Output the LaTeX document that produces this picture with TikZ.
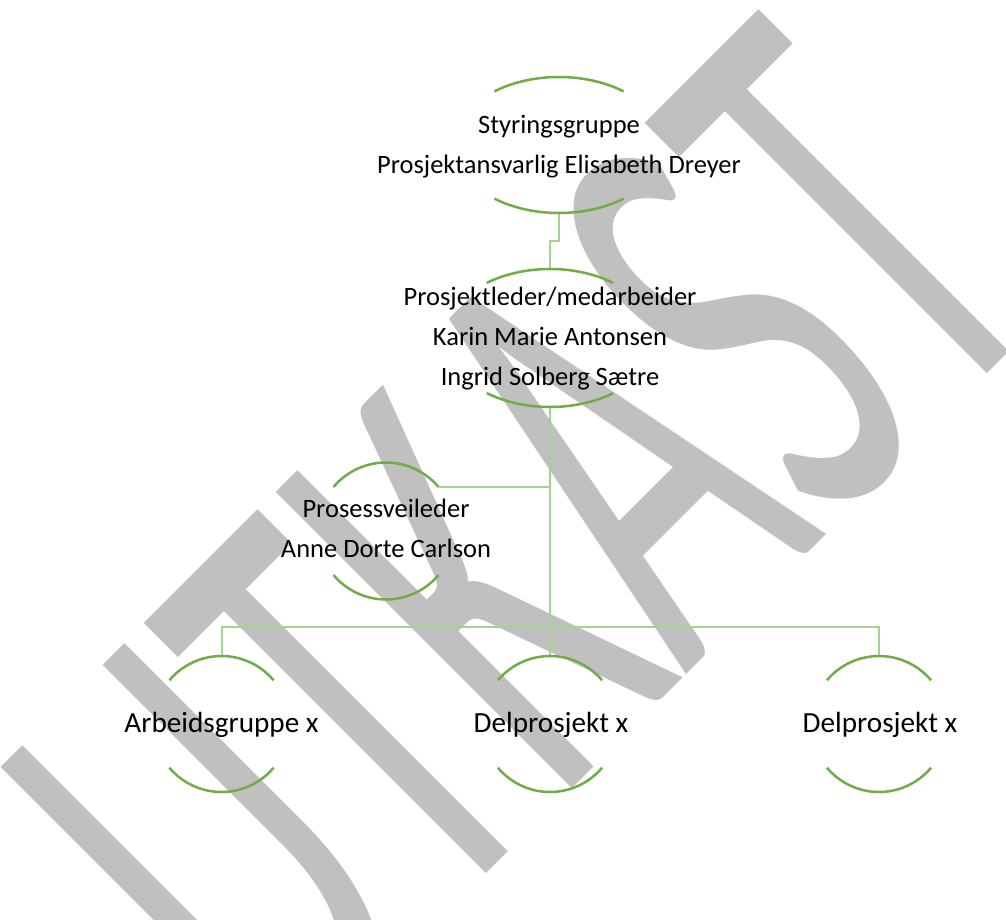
\documentclass[tikz,border=0pt]{standalone}
\usepackage{fontspec}
\setmainfont{Carlito}
\newfontfamily\wmfont{Carlito}
\usetikzlibrary{calc}
\definecolor{arcgreen}{RGB}{112,173,71}
\definecolor{conngreen}{RGB}{169,209,142}
\definecolor{wmgray}{RGB}{192,192,192}
\tikzset{
  arcst/.style={draw=arcgreen, line width=1.25pt},
  conn/.style={draw=conngreen, line width=1pt},
  lbl/.style={align=center, inner sep=0pt, text=black, font=\fontsize{13.25pt}{20pt}\selectfont},
  lblbig/.style={inner sep=0pt, text=black, font=\fontsize{14.6pt}{18pt}\selectfont},
}
\newcommand\drawarcs[4]{%
  \draw[arcst] ($(#1)+(#4:#2 and #3)$) arc[start angle=#4, end angle=180-#4, x radius=#2, y radius=#3];
  \draw[arcst] ($(#1)+(180+#4:#2 and #3)$) arc[start angle=180+#4, end angle=360-#4, x radius=#2, y radius=#3];}
\begin{document}
\begin{tikzpicture}[x=0.5pt,y=-0.5pt]
\useasboundingbox (0,0) rectangle (1006,920);
\fill[white] (0,0) rectangle (1006,920);
% watermark
\begin{scope}
\clip (0,0) rectangle (1006,920);
\node[rotate=45, anchor=base, inner sep=0pt, text=wmgray] (wm) at (669,691.5)
  {\scalebox{0.5314}[1]{\fontsize{326.5pt}{330pt}\selectfont\wmfont UTKAST}};
\end{scope}
% centres
\coordinate (c1) at (559,145);
\coordinate (c2) at (550,338);
\coordinate (c3) at (386,531);
\coordinate (c4) at (221.5,724);
\coordinate (c5) at (550,724);
\coordinate (c6) at (879,724);
\coordinate (n1bot) at (559,213);
\coordinate (n2top) at (550,269);
\coordinate (n2bot) at (550,407);
\coordinate (n3r) at (438.5,487);
\coordinate (n4top) at (221.5,656);
\coordinate (n5top) at (550,656);
\coordinate (n6top) at (879,656);
% connectors
\draw[conn] (n1bot) -- ++(0,28) -| (n2top);
\draw[conn] (n2bot) -- (n5top);
\draw[conn] (n3r) -- (n3r -| n2bot);
\draw[conn] (n4top) -- ++(0,-29) -| (n6top);
% arcs
\drawarcs{c1}{105}{68}{52}
\drawarcs{c2}{105}{69}{53}
\drawarcs{c3}{68.5}{68.5}{40}
\drawarcs{c4}{68}{68}{40}
\drawarcs{c5}{68}{68}{40}
\drawarcs{c6}{68}{68}{40}
% labels
\node[lbl] (t1) at (559,146.5) {Styringsgruppe\\Prosjektansvarlig Elisabeth Dreyer};
\node[lbl] (t2) at (550,339) {Prosjektleder/medarbeider\\Karin Marie Antonsen\\Ingrid Solberg Sætre};
\node[lbl] (t3) at (386,528.7) {Prosessveileder\\Anne Dorte Carlson};
\node[lblbig, anchor=base] (t4) at (221.5,732.5) {Arbeidsgruppe x};
\node[lblbig, anchor=base] (t5) at (551,732.5) {Delprosjekt x};
\node[lblbig, anchor=base] (t6) at (880,732.5) {Delprosjekt x};
\end{tikzpicture}
\end{document}
